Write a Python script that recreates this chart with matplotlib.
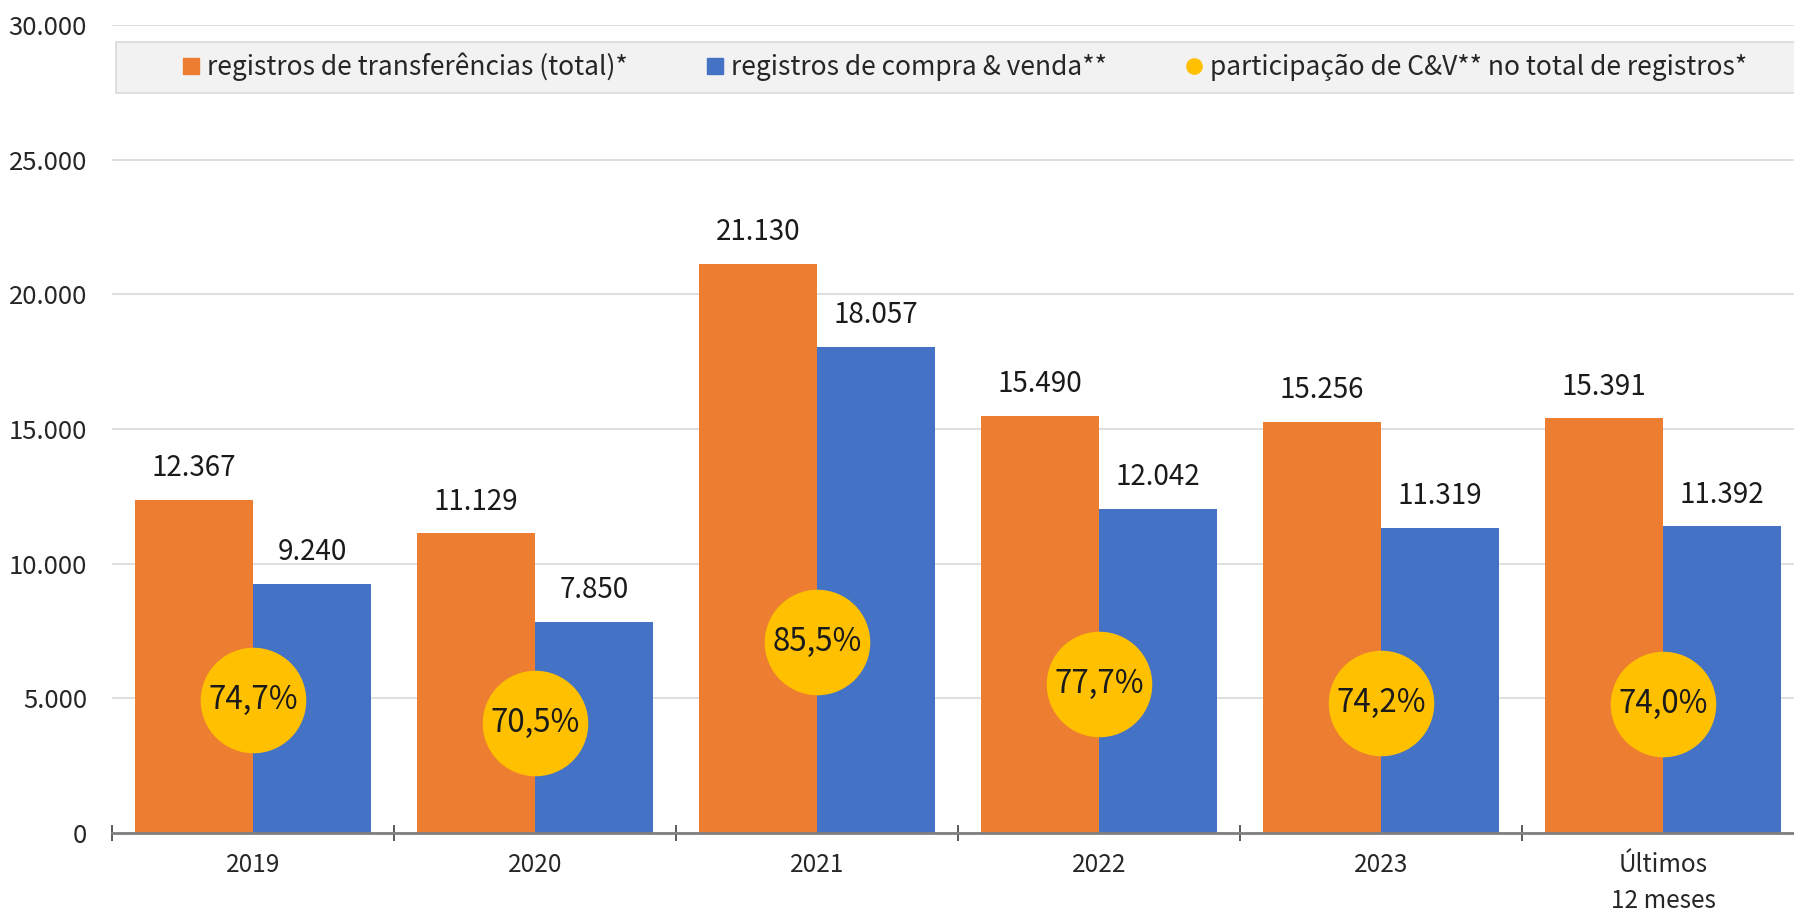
import matplotlib
matplotlib.use('Agg')
import matplotlib.pyplot as plt
import numpy as np
from matplotlib.lines import Line2D
from matplotlib.patches import Rectangle

plt.rcParams['font.family'] = ['Noto Sans CJK JP', 'DejaVu Sans']

categories = ['2019', '2020', '2021', '2022', '2023', 'Últimos\n12 meses']
total = [12367, 11129, 21130, 15490, 15256, 15391]
compra_venda = [9240, 7850, 18057, 12042, 11319, 11392]
participacao = [74.7, 70.5, 85.5, 77.7, 74.2, 74.0]

ORANGE = '#ED7D31'
BLUE = '#4472C4'
YELLOW = '#FFC000'


def fmt_thousands(v):
    return f'{v:,.0f}'.replace(',', '.')


fig = plt.figure(figsize=(17.94, 9.15), dpi=100)
ax = fig.add_axes([112 / 1794, 1 - 833 / 915, (1804 - 112) / 1794, (833 - 25) / 915])

x = np.arange(len(categories))
w = 0.42
b1 = ax.bar(x - w / 2, total, w, color=ORANGE, zorder=2)
b2 = ax.bar(x + w / 2, compra_venda, w, color=BLUE, zorder=2)

for bars, vals in ((b1, total), (b2, compra_venda)):
    for bar, v in zip(bars, vals):
        ax.annotate(fmt_thousands(v), (bar.get_x() + bar.get_width() / 2, v),
                    xytext=(0, 12), textcoords='offset points',
                    ha='center', va='bottom', fontsize=20, color='#1a1a1a')

ax.set_ylim(0, 30000)
ax.set_xlim(-0.5, len(categories) - 0.5)
ax.set_yticks(np.arange(0, 30001, 5000))
ax.set_yticklabels([fmt_thousands(v) for v in np.arange(0, 30001, 5000)],
                   fontsize=18.5, color='#262626')
ax.tick_params(axis='y', length=0, pad=18)
ax.grid(axis='y', color='#d9d9d9', linewidth=1.2, zorder=0)
ax.set_axisbelow(True)

ax.set_xticks(x)
ax.set_xticklabels(categories, fontsize=17.5, color='#262626', linespacing=1.5)
ax.tick_params(axis='x', which='major', length=0, pad=14)
ax.set_xticks(np.arange(-0.5, len(categories), 1), minor=True)
ax.tick_params(axis='x', which='minor', direction='inout', length=11,
               width=1.2, color='#404040')

for s in ('top', 'right', 'left'):
    ax.spines[s].set_visible(False)
ax.spines['bottom'].set_color('#7f7f7f')
ax.spines['bottom'].set_linewidth(2)
ax.spines['bottom'].set_zorder(3)

# share on secondary scale (50% .. 200%)
ax2 = ax.twinx()
ax2.set_ylim(50, 200)
ax2.axis('off')
ax2.plot(x, participacao, linestyle='none', marker='o', markersize=76,
         color=YELLOW, markeredgewidth=0, zorder=4)
for xi, p in zip(x, participacao):
    ax2.text(xi, p, f'{p:.1f}%'.replace('.', ','), ha='center', va='center',
             fontsize=22.5, color='#1a1a1a', zorder=5)

# legend box
fig.patches.append(Rectangle((116 / 1794, 1 - 93 / 915), 1.0, 51 / 915,
                             transform=fig.transFigure, facecolor='#f2f2f2',
                             edgecolor='#d9d9d9', linewidth=1.2, zorder=5))
handles = [
    Line2D([], [], linestyle='none', marker='s', markersize=11, color=ORANGE),
    Line2D([], [], linestyle='none', marker='s', markersize=11, color=BLUE),
    Line2D([], [], linestyle='none', marker='o', markersize=11, color=YELLOW),
]
labels = ['registros de transferências (total)*', 'registros de compra & venda**',
          'participação de C&V** no total de registros*']
leg = fig.legend(handles, labels, loc='center', ncol=3, frameon=False,
                 bbox_to_anchor=(965 / 1794, 1 - 67 / 915), fontsize=19,
                 handlelength=0.6, handletextpad=0.3, columnspacing=3.0)
leg.set_zorder(6)
for t in leg.get_texts():
    t.set_color('#262626')

fig.savefig('out.png', dpi=100)
